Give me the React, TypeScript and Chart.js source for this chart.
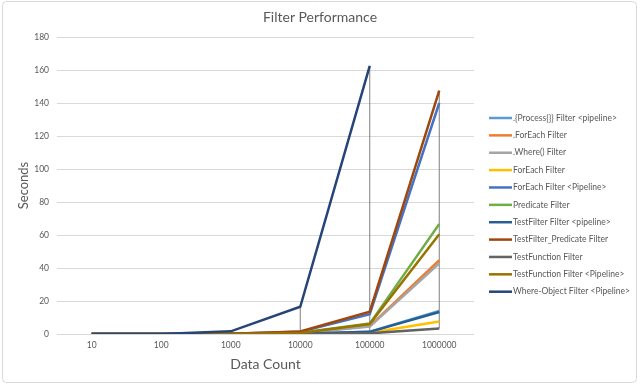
import React, { useEffect, useRef } from "react";
import { Chart, registerables } from "chart.js";

Chart.register(...registerables);

// ---- data ----
const categories = ["10", "100", "1000", "10000", "100000", "1000000"];
const yTicksMax = 180;
const yTicksStep = 20;

const seriesNames = [
  ".{Process{}} Filter <pipeline>",
  ".ForEach Filter",
  ".Where() Filter",
  "ForEach Filter",
  "ForEach Filter <Pipeline>",
  "Predicate Filter",
  "TestFilter Filter <pipeline>",
  "TestFilter_Predicate Filter",
  "TestFunction Filter",
  "TestFunction Filter <Pipeline>",
  "Where-Object Filter <Pipeline>",
];

const seriesColors = [
  "#5B9BD5",
  "#ED7D31",
  "#A5A5A5",
  "#FFC000",
  "#4472C4",
  "#70AD47",
  "#255E91",
  "#9E480E",
  "#636363",
  "#997300",
  "#264478",
];

const processPipeline = [0, 0, 0.02, 0.15, 1.4, 14];
const dotForEach = [0, 0, 0.05, 0.5, 4.8, 44.7];
const dotWhere = [0, 0, 0.05, 0.45, 4.5, 42.8];
const forEachFilter = [0, 0, 0.01, 0.08, 0.8, 7.6];
const forEachPipeline = [0, 0, 0.13, 1.3, 12, 140];
const predicateFilter = [0, 0, 0.07, 0.7, 6.3, 66.7];
const testFilterPipeline = [0, 0, 0.02, 0.15, 1.3, 13.3];
const testFilterPredicate = [0, 0, 0.15, 1.5, 13.5, 147.5];
const testFunction = [0, 0, 0.005, 0.04, 0.4, 3.4];
const testFunctionPipeline = [0, 0, 0.06, 0.65, 6, 60.5];
const whereObjectPipeline = [0.005, 0.02, 1.6, 16.5, 162.5, null];

const seriesValues = [
  processPipeline,
  dotForEach,
  dotWhere,
  forEachFilter,
  forEachPipeline,
  predicateFilter,
  testFilterPipeline,
  testFilterPredicate,
  testFunction,
  testFunctionPipeline,
  whereObjectPipeline,
];

const TEXT = "#595959";
const FONT = "Lato";

const framePlugin = {
  id: "frame",
  beforeDraw(chart: any) {
    const ctx = chart.ctx;
    ctx.save();
    ctx.fillStyle = "#ffffff";
    ctx.fillRect(0, 0, chart.width, chart.height);
    ctx.strokeStyle = "#d9d9d9";
    ctx.lineWidth = 1;
    ctx.beginPath();
    (ctx as any).roundRect(2.5, 1.5, 634, 381, 4);
    ctx.stroke();
    ctx.restore();
  },
};

const highLowPlugin = {
  id: "highLow",
  beforeDatasetsDraw(chart: any) {
    const ctx = chart.ctx;
    const xs = chart.scales.x;
    const ys = chart.scales.y;
    ctx.save();
    ctx.strokeStyle = "#7f7f7f";
    ctx.lineWidth = 1;
    categories.forEach((_, i) => {
      const vals = chart.data.datasets
        .map((d: any) => d.data[i])
        .filter((v: any) => v !== null && v !== undefined);
      if (!vals.length) return;
      const lo = Math.min(...vals);
      const hi = Math.max(...vals);
      if (hi - lo <= 0) return;
      const x = xs.getPixelForValue(i);
      ctx.beginPath();
      ctx.moveTo(x, ys.getPixelForValue(lo));
      ctx.lineTo(x, ys.getPixelForValue(hi));
      ctx.stroke();
    });
    ctx.restore();
  },
};

const legendPlugin = {
  id: "sideLegend",
  afterDraw(chart: any) {
    const ctx = chart.ctx;
    ctx.save();
    ctx.font = `8.5px ${FONT}`;
    ctx.textBaseline = "middle";
    ctx.textAlign = "left";
    chart.data.datasets.forEach((ds: any, i: number) => {
      const y = 118 + i * 17.37;
      ctx.strokeStyle = ds.borderColor;
      ctx.lineWidth = 2.5;
      ctx.beginPath();
      ctx.moveTo(489, y);
      ctx.lineTo(512, y);
      ctx.stroke();
      ctx.fillStyle = TEXT;
      ctx.fillText(ds.label, 513, y);
    });
    ctx.restore();
  },
};

export default function App() {
  const ref = useRef<HTMLCanvasElement | null>(null);

  useEffect(() => {
    if (!ref.current) return;
    Chart.defaults.font.family = FONT;
    const chart = new Chart(ref.current, {
      type: "line",
      data: {
        labels: categories,
        datasets: seriesNames.map((name, i) => ({
          label: name,
          data: seriesValues[i],
          borderColor: seriesColors[i],
          backgroundColor: seriesColors[i],
          borderWidth: 2.5,
          pointRadius: 0,
          pointHoverRadius: 0,
          tension: 0,
          spanGaps: false,
          order: seriesNames.length - i,
        })),
      },
      options: {
        responsive: false,
        animation: false,
        layout: { padding: { left: 0, right: 0, top: 0, bottom: 0 } },
        plugins: {
          legend: { display: false },
          tooltip: { enabled: false },
          title: {
            display: true,
            text: "Filter Performance",
            color: TEXT,
            font: { size: 14, weight: "normal", family: FONT },
            padding: { top: 8.6, bottom: 11.6 },
          },
        },
        scales: {
          x: {
            type: "category",
            offset: true,
            grid: { display: false, drawTicks: false },
            border: { display: false },
            ticks: {
              color: TEXT,
              font: { size: 8.5, family: FONT },
              padding: 6.6,
              autoSkip: false,
              maxRotation: 0,
            },
            title: {
              display: true,
              text: "Data Count",
              color: TEXT,
              font: { size: 14, family: FONT },
              padding: { top: 0, bottom: 12.6 },
            },
            afterFit(s: any) {
              s.height = 51;
            },
          },
          y: {
            min: 0,
            max: yTicksMax,
            ticks: {
              stepSize: yTicksStep,
              color: TEXT,
              font: { size: 8.5, family: FONT },
              padding: 8,
            },
            grid: { color: "#d9d9d9", drawTicks: false, lineWidth: 1 },
            border: { display: false },
            title: {
              display: true,
              text: "Seconds",
              color: TEXT,
              font: { size: 13, family: FONT },
              padding: { top: 15.7, bottom: 0 },
            },
            afterFit(s: any) {
              s.width = 57;
            },
          },
          legendSpace: {
            type: "linear",
            position: "right",
            display: true,
            grid: { display: false, drawTicks: false },
            border: { display: false },
            ticks: { display: false },
            afterFit(s: any) {
              s.width = 166;
            },
          },
        },
      },
      plugins: [framePlugin, highLowPlugin, legendPlugin],
    });
    return () => chart.destroy();
  }, []);

  return (
    <div style={{ position: "fixed", left: 0, top: 0, width: 640, height: 385, background: "#fff" }}>
      <canvas ref={ref} width={640} height={385} />
    </div>
  );
}
